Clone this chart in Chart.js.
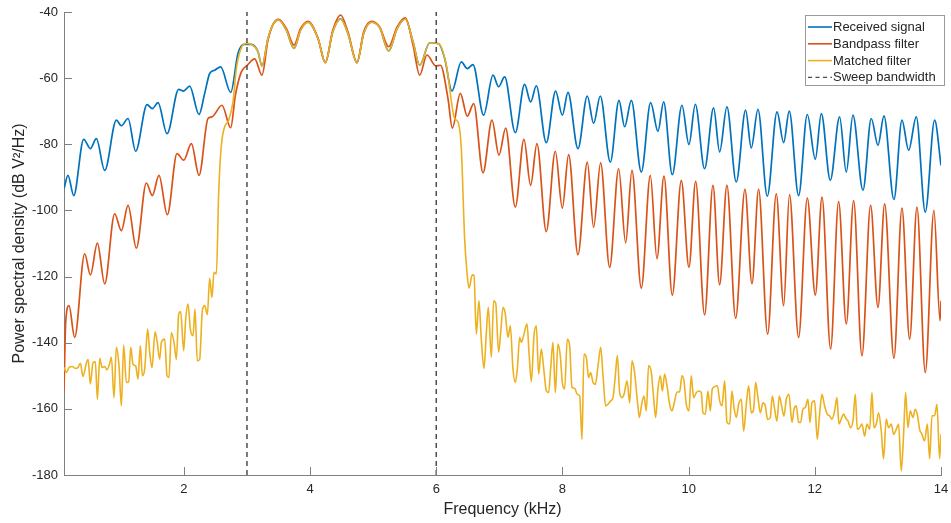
<!DOCTYPE html>
<html><head><meta charset="utf-8">
<script src="https://cdn.jsdelivr.net/npm/chart.js@4/dist/chart.umd.min.js"></script>
<style>html,body{margin:0;padding:0;background:#fff;}#wrap{width:951px;height:523px;}</style>
</head><body><div id="wrap"><canvas id="c" width="951" height="523"></canvas></div>
<script>
// [frequency kHz, PSD dB V^2/Hz]
const receivedSignal = [[0.10,-93.4],[0.163,-89.4],[0.254,-95.5],[0.412,-78.5],[0.518,-81.3],[0.613,-78.3],[0.745,-87.9],[0.930,-72.7],[1.009,-74.4],[1.115,-72.2],[1.236,-82.1],[1.416,-68.0],[1.500,-69.2],[1.590,-67.4],[1.733,-76.8],[1.918,-63.4],[1.997,-63.9],[2.092,-62.4],[2.240,-71.0],[2.330,-64.6],[2.409,-58.6],[2.488,-57.6],[2.583,-56.6],[2.742,-64.3],[2.858,-52.5],[2.953,-49.8],[3.069,-49.8],[3.174,-52.0],[3.238,-56.3],[3.333,-48.0],[3.42,-43.5],[3.502,-42.4],[3.624,-45.5],[3.745,-51.0],[3.85,-45.5],[3.967,-43.1],[4.126,-48.0],[4.242,-55.3],[4.36,-46.0],[4.485,-42.1],[4.60,-46.5],[4.744,-55.3],[4.85,-46.5],[4.971,-43.1],[5.103,-44.7],[5.246,-51.8],[5.38,-45.0],[5.510,-42.1],[5.632,-49.0],[5.737,-56.1],[5.896,-49.3],[6.04,-49.6],[6.133,-54.0],[6.249,-63.9],[6.397,-55.1],[6.492,-57.1],[6.582,-55.9],[6.751,-71.2],[6.899,-59.1],[6.989,-62.6],[7.084,-59.6],[7.253,-76.5],[7.400,-61.9],[7.496,-67.2],[7.586,-62.3],[7.744,-79.5],[7.892,-63.9],[7.998,-71.2],[8.088,-64.3],[8.246,-81.3],[8.394,-65.4],[8.494,-73.7],[8.600,-65.4],[8.759,-85.4],[8.896,-66.7],[8.986,-74.7],[9.092,-66.7],[9.250,-88.4],[9.398,-67.4],[9.514,-76.1],[9.604,-67.2],[9.741,-89.2],[9.894,-68.2],[10.005,-80.1],[10.106,-67.9],[10.253,-87.4],[10.396,-69.0],[10.491,-82.3],[10.607,-68.7],[10.755,-91.4],[10.903,-69.7],[10.993,-81.1],[11.099,-69.4],[11.247,-95.7],[11.401,-70.2],[11.506,-79.5],[11.595,-70.0],[11.743,-95.5],[11.881,-71.0],[12.008,-84.5],[12.103,-70.7],[12.245,-90.9],[12.393,-71.7],[12.499,-88.4],[12.604,-71.2],[12.763,-93.9],[12.895,-72.2],[13.001,-80.3],[13.096,-71.4],[13.254,-96.7],[13.381,-72.7],[13.487,-81.8],[13.608,-71.7],[13.751,-100.5],[13.899,-72.7],[14.0,-86.4]];

const bandpassFilter = [[0.10,-154.5],[0.127,-133.8],[0.179,-128.8],[0.269,-138.4],[0.428,-113.1],[0.518,-119.5],[0.629,-109.9],[0.745,-122.2],[0.903,-101.0],[1.009,-106.1],[1.115,-98.5],[1.247,-111.4],[1.405,-91.7],[1.500,-95.5],[1.605,-89.4],[1.738,-101.3],[1.891,-82.8],[1.997,-84.8],[2.119,-79.8],[2.240,-89.4],[2.382,-72.2],[2.445,-71.7],[2.604,-68.2],[2.742,-75.0],[2.816,-65.2],[2.911,-58.1],[3.006,-56.1],[3.122,-54.2],[3.238,-59.1],[3.333,-48.5],[3.42,-43.5],[3.502,-42.2],[3.624,-45.0],[3.745,-50.0],[3.85,-45.0],[3.967,-42.8],[4.126,-48.0],[4.242,-55.3],[4.36,-45.5],[4.485,-40.9],[4.60,-46.0],[4.744,-55.3],[4.85,-46.0],[4.971,-42.8],[5.103,-44.5],[5.246,-50.5],[5.38,-44.5],[5.510,-41.8],[5.632,-50.0],[5.737,-59.1],[5.853,-53.0],[5.991,-56.3],[6.066,-56.1],[6.186,-66.2],[6.255,-75.1],[6.381,-64.6],[6.492,-71.5],[6.593,-67.7],[6.741,-88.6],[6.883,-72.7],[6.994,-83.3],[7.100,-75.1],[7.253,-99.0],[7.390,-78.5],[7.496,-92.4],[7.596,-79.8],[7.744,-106.4],[7.887,-82.1],[7.998,-99.3],[8.098,-83.1],[8.246,-113.4],[8.394,-85.4],[8.494,-105.1],[8.605,-85.6],[8.748,-117.2],[8.891,-87.4],[9.002,-109.8],[9.102,-87.9],[9.250,-123.5],[9.393,-89.4],[9.498,-114.6],[9.609,-89.6],[9.741,-125.6],[9.884,-90.9],[10.005,-117.2],[10.111,-91.2],[10.253,-131.6],[10.386,-92.4],[10.491,-122.5],[10.607,-92.4],[10.745,-132.6],[10.893,-93.6],[11.004,-122.2],[11.109,-93.6],[11.252,-137.4],[11.389,-95.0],[11.506,-128.8],[11.598,-95.2],[11.743,-138.4],[11.881,-96.3],[12.008,-125.6],[12.114,-96.0],[12.250,-141.9],[12.377,-97.3],[12.499,-134.3],[12.615,-97.0],[12.747,-143.9],[12.884,-98.5],[13.001,-129.3],[13.107,-98.0],[13.254,-144.7],[13.381,-99.3],[13.503,-138.9],[13.619,-99.0],[13.751,-149.0],[13.888,-100.0],[13.985,-133.3],[14.0,-127.3]];

const matchedFilter = [[0.10,-147.5],[0.137,-149.0],[0.180,-147.5],[0.232,-147.2],[0.285,-147.8],[0.322,-147.5],[0.359,-146.2],[0.401,-150.2],[0.454,-146.2],[0.481,-145.0],[0.518,-152.5],[0.560,-146.0],[0.597,-145.8],[0.629,-157.1],[0.666,-144.7],[0.703,-147.5],[0.745,-147.2],[0.782,-148.2],[0.824,-146.2],[0.851,-144.4],[0.893,-156.6],[0.930,-141.4],[0.972,-147.0],[1.009,-159.1],[1.046,-140.7],[1.088,-152.0],[1.125,-151.9],[1.157,-141.4],[1.194,-146.5],[1.236,-147.0],[1.273,-151.0],[1.310,-140.9],[1.342,-150.0],[1.379,-148.0],[1.426,-135.9],[1.458,-142.9],[1.495,-147.5],[1.543,-136.7],[1.574,-139.4],[1.616,-145.0],[1.643,-139.9],[1.696,-138.9],[1.733,-150.0],[1.764,-150.5],[1.801,-136.9],[1.844,-139.9],[1.881,-145.0],[1.918,-131.3],[1.949,-130.6],[1.997,-142.4],[2.029,-132.8],[2.066,-128.3],[2.103,-135.9],[2.145,-137.9],[2.176,-129.8],[2.213,-145.5],[2.250,-145.0],[2.293,-130.3],[2.329,-128.8],[2.372,-131.5],[2.409,-120.5],[2.445,-126.3],[2.477,-118.7],[2.515,-119.2],[2.552,-94.4],[2.594,-80.3],[2.647,-74.7],[2.710,-72.7],[2.778,-67.2],[2.832,-57.1],[2.911,-50.8],[2.990,-49.5],[3.069,-49.8],[3.174,-52.0],[3.238,-56.3],[3.333,-48.0],[3.42,-43.5],[3.502,-42.4],[3.624,-45.5],[3.745,-51.0],[3.85,-45.5],[3.967,-43.1],[4.126,-48.0],[4.242,-55.3],[4.36,-46.0],[4.485,-42.1],[4.60,-46.5],[4.744,-55.3],[4.85,-46.5],[4.971,-43.1],[5.103,-44.7],[5.246,-51.8],[5.38,-45.0],[5.510,-42.1],[5.632,-49.0],[5.737,-56.1],[5.896,-49.3],[6.04,-49.6],[6.160,-56.1],[6.291,-72.2],[6.344,-73.2],[6.397,-81.3],[6.450,-108.6],[6.487,-118.7],[6.519,-123.5],[6.571,-119.5],[6.598,-119.7],[6.635,-137.4],[6.677,-127.3],[6.714,-138.9],[6.757,-147.8],[6.794,-136.9],[6.825,-129.3],[6.873,-144.4],[6.910,-127.3],[6.942,-128.0],[6.989,-142.9],[7.021,-136.9],[7.058,-129.3],[7.094,-131.3],[7.137,-138.4],[7.174,-134.9],[7.216,-148.0],[7.253,-152.0],[7.285,-148.0],[7.322,-138.4],[7.348,-139.9],[7.390,-137.4],[7.438,-134.3],[7.470,-142.9],[7.507,-151.8],[7.549,-137.9],[7.586,-134.9],[7.623,-149.5],[7.665,-141.9],[7.707,-148.5],[7.744,-154.5],[7.781,-155.1],[7.813,-148.0],[7.850,-139.9],[7.887,-155.1],[7.929,-140.4],[7.966,-143.9],[7.998,-152.0],[8.035,-154.0],[8.077,-138.9],[8.114,-140.9],[8.151,-153.5],[8.193,-153.8],[8.235,-155.6],[8.273,-156.1],[8.310,-169.2],[8.341,-143.4],[8.378,-144.4],[8.415,-150.5],[8.447,-149.0],[8.484,-152.0],[8.521,-152.6],[8.564,-147.0],[8.606,-141.4],[8.643,-150.0],[8.685,-159.1],[8.722,-158.6],[8.764,-157.6],[8.801,-156.6],[8.838,-150.0],[8.870,-143.9],[8.907,-155.1],[8.944,-156.6],[8.976,-155.6],[9.024,-151.5],[9.066,-158.2],[9.103,-145.5],[9.140,-148.5],[9.193,-158.6],[9.219,-162.6],[9.256,-158.6],[9.292,-156.1],[9.329,-160.6],[9.366,-146.9],[9.408,-148.9],[9.445,-156.6],[9.477,-162.6],[9.514,-154.0],[9.551,-150.0],[9.583,-154.6],[9.620,-149.5],[9.657,-153.0],[9.699,-158.6],[9.736,-160.6],[9.773,-158.1],[9.815,-154.9],[9.857,-154.9],[9.894,-150.0],[9.926,-151.5],[9.963,-158.6],[10.005,-160.6],[10.042,-150.0],[10.079,-156.6],[10.122,-155.1],[10.164,-154.6],[10.201,-155.1],[10.227,-161.2],[10.264,-161.6],[10.306,-154.6],[10.343,-160.6],[10.375,-154.0],[10.412,-153.3],[10.455,-153.0],[10.492,-157.6],[10.529,-159.1],[10.571,-151.5],[10.608,-164.1],[10.650,-164.6],[10.687,-154.6],[10.719,-159.6],[10.756,-162.6],[10.793,-158.6],[10.835,-157.1],[10.872,-166.7],[10.914,-158.6],[10.951,-153.0],[10.993,-161.2],[11.030,-160.2],[11.062,-152.0],[11.099,-156.6],[11.136,-161.2],[11.178,-158.2],[11.215,-159.1],[11.252,-163.2],[11.294,-162.6],[11.326,-156.1],[11.363,-160.1],[11.400,-163.7],[11.437,-156.1],[11.474,-159.1],[11.511,-162.2],[11.548,-157.1],[11.590,-155.6],[11.638,-164.1],[11.670,-160.1],[11.706,-159.1],[11.743,-164.1],[11.775,-164.1],[11.812,-160.1],[11.849,-159.6],[11.891,-157.1],[11.923,-164.1],[11.955,-158.1],[11.997,-157.6],[12.039,-169.2],[12.076,-161.6],[12.113,-155.6],[12.155,-159.1],[12.197,-161.6],[12.234,-162.1],[12.271,-163.1],[12.314,-160.6],[12.351,-156.6],[12.382,-164.6],[12.419,-163.1],[12.456,-161.6],[12.499,-163.1],[12.525,-163.6],[12.567,-165.7],[12.605,-163.6],[12.642,-155.6],[12.673,-166.2],[12.710,-165.7],[12.747,-164.6],[12.789,-168.2],[12.826,-164.6],[12.869,-166.2],[12.906,-155.1],[12.937,-165.7],[12.974,-164.6],[13.011,-161.2],[13.053,-166.7],[13.090,-175.1],[13.132,-163.1],[13.169,-165.7],[13.212,-164.6],[13.249,-167.7],[13.291,-166.2],[13.328,-164.6],[13.370,-178.8],[13.407,-167.7],[13.439,-155.1],[13.476,-165.7],[13.513,-160.6],[13.555,-162.6],[13.592,-160.1],[13.624,-161.6],[13.661,-166.2],[13.698,-167.7],[13.740,-169.7],[13.783,-164.6],[13.820,-175.1],[13.857,-162.1],[13.899,-162.1],[13.936,-158.6],[13.978,-175.1],[14.0,-167.7]];

const sweepEdges = [3, 6];           // kHz
const xTicks = [2, 4, 6, 8, 10, 12, 14];
const yTicks = [-180, -160, -140, -120, -100, -80, -60, -40];
const seriesNames = ['Received signal', 'Bandpass filter', 'Matched filter', 'Sweep bandwidth'];
const seriesColors = ['#0072BD', '#D95319', '#EDB120', '#4d4d4d'];

const toXY = pts => pts.map(p => ({x: p[0], y: p[1]}));
const yMin = yTicks[0], yMax = yTicks[yTicks.length - 1];
const sweepData = [];
sweepEdges.forEach((e, i) => {
  if (i > 0) sweepData.push({x: (sweepEdges[i-1] + e) / 2, y: null});
  sweepData.push({x: e, y: yMin}, {x: e, y: yMax});
});

const FONT = '"Liberation Sans", Arial, Helvetica, sans-serif';
const TXT = '#262626';
const AX = '#808080';

const decor = {
  id: 'decor',
  afterDraw(chart) {
    const {ctx, chartArea: a, scales: {x, y}} = chart;
    ctx.save();
    ctx.strokeStyle = AX; ctx.lineWidth = 1;
    ctx.beginPath();
    xTicks.forEach(v => { const px = Math.round(x.getPixelForValue(v)) + 0.5; ctx.moveTo(px, a.bottom); ctx.lineTo(px, a.bottom - 8); });
    yTicks.forEach(v => { const py = Math.round(y.getPixelForValue(v)) + 0.5; ctx.moveTo(a.left, py); ctx.lineTo(a.left + 8, py); });
    ctx.stroke();
    // legend
    const lx = 805.5, ly = 15.5, lw = 139, lh = 70;
    ctx.fillStyle = '#fff'; ctx.fillRect(lx, ly, lw, lh);
    ctx.strokeStyle = '#9a9a9a'; ctx.strokeRect(lx, ly, lw, lh);
    ctx.font = '13px ' + FONT; ctx.textBaseline = 'middle'; ctx.fillStyle = TXT;
    seriesNames.forEach((n, i) => {
      const yy = ly + 11.5 + i * 16.8;
      ctx.strokeStyle = seriesColors[i]; ctx.lineWidth = i === 3 ? 1.3 : 1.6;
      ctx.setLineDash(i === 3 ? [4, 3.5] : []);
      ctx.beginPath(); ctx.moveTo(lx + 2.5, yy); ctx.lineTo(lx + 26.5, yy); ctx.stroke();
      ctx.setLineDash([]);
      ctx.fillText(n, lx + 27.5, yy + 0.5);
    });
    ctx.restore();
  }
};

new Chart(document.getElementById('c'), {
  type: 'line',
  data: {
    datasets: [
      {label: seriesNames[0], data: toXY(receivedSignal), borderColor: seriesColors[0], borderWidth: 1.7, order: 3},
      {label: seriesNames[1], data: toXY(bandpassFilter), borderColor: seriesColors[1], borderWidth: 1.7, order: 2},
      {label: seriesNames[2], data: toXY(matchedFilter), borderColor: seriesColors[2], borderWidth: 1.6, order: 1},
      {label: seriesNames[3], data: sweepData, borderColor: seriesColors[3], borderWidth: 1.5, borderDash: [5, 4], spanGaps: false, order: 0, cubicInterpolationMode: 'default', tension: 0}
    ]
  },
  options: {
    responsive: false, animation: false, devicePixelRatio: 1,
    elements: {point: {radius: 0, hoverRadius: 0}, line: {cubicInterpolationMode: 'monotone', fill: false}},
    layout: {padding: {top: 12, right: 10, bottom: 0, left: 0}},
    plugins: {legend: {display: false}, tooltip: {enabled: false}},
    scales: {
      x: {
        type: 'linear', min: 0.1, max: 14,
        afterBuildTicks: s => { s.ticks = xTicks.map(v => ({value: v})); },
        afterFit: s => { s.height = 48; s.paddingLeft = 0; s.paddingRight = 0; },
        grid: {display: false, drawTicks: false},
        border: {display: true, color: AX, width: 1},
        ticks: {color: TXT, font: {family: FONT, size: 13}, padding: 7, maxRotation: 0, autoSkip: false, callback: v => String(v)},
        title: {display: true, text: 'Frequency (kHz)', color: TXT, font: {family: FONT, size: 16}, padding: {top: 0, bottom: 4}}
      },
      y: {
        type: 'linear', min: yMin, max: yMax,
        afterBuildTicks: s => { s.ticks = yTicks.map(v => ({value: v})); },
        afterFit: s => { s.width = 64; s.paddingTop = 0; s.paddingBottom = 0; },
        grid: {display: false, drawTicks: false},
        border: {display: true, color: AX, width: 1},
        ticks: {color: TXT, font: {family: FONT, size: 13}, padding: 6, autoSkip: false, callback: v => String(v)},
        title: {display: true, text: 'Power spectral density (dB V\u00B2/Hz)', color: TXT, font: {family: FONT, size: 16}, padding: {top: 10, bottom: 0}}
      }
    }
  },
  plugins: [decor]
});
</script></body></html>
